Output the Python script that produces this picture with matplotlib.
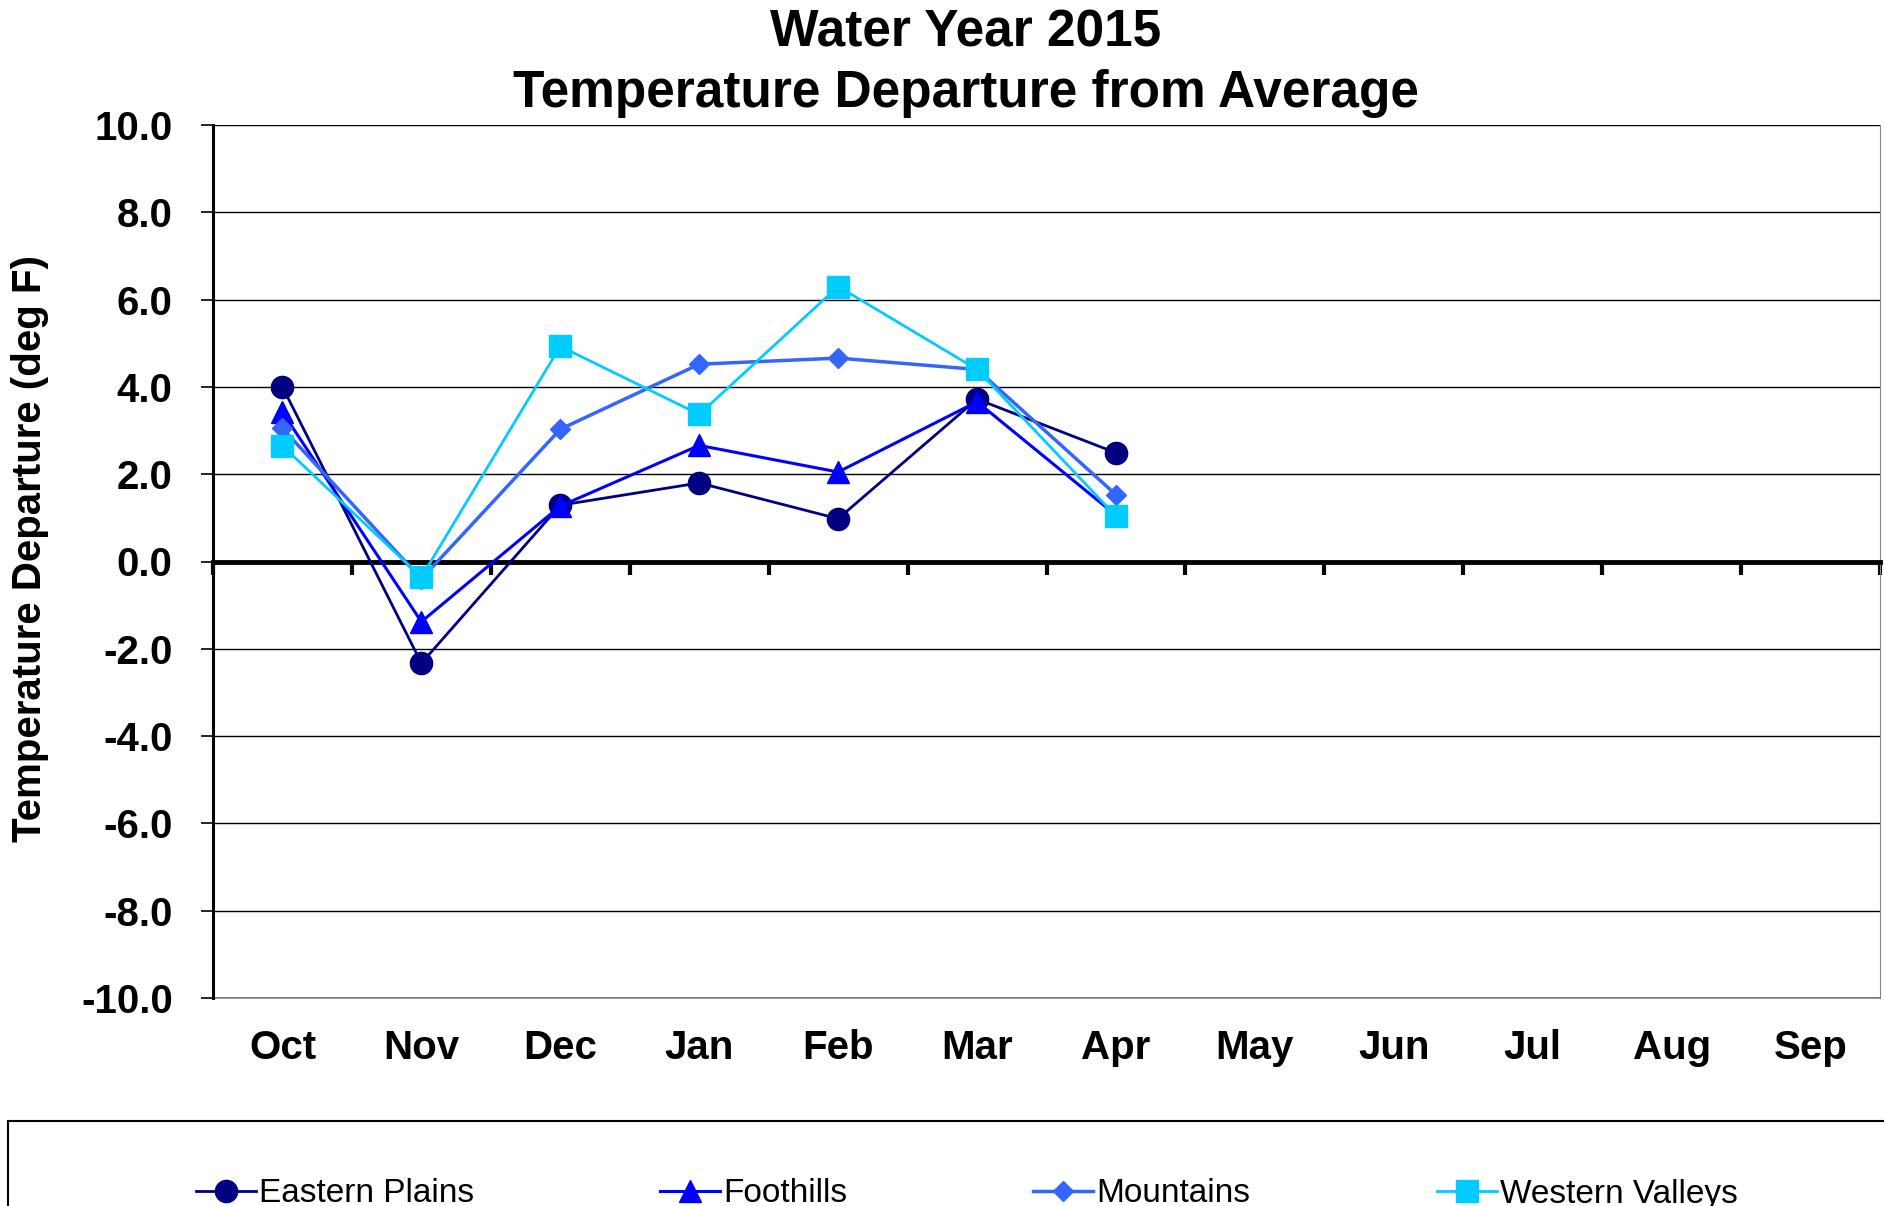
import numpy as np
import matplotlib
matplotlib.use("Agg")
import matplotlib.pyplot as plt
from matplotlib.patches import Rectangle

# ---- data ----
months = ["Oct", "Nov", "Dec", "Jan", "Feb", "Mar", "Apr",
          "May", "Jun", "Jul", "Aug", "Sep"]
eastern_plains = [4.0, -2.33, 1.29, 1.80, 0.98, 3.72, 2.49]
foothills = [3.42, -1.38, 1.27, 2.66, 2.05, 3.66, 1.06]
mountains = [3.05, -0.40, 3.03, 4.52, 4.66, 4.40, 1.53]
western_valleys = [2.65, -0.36, 4.93, 3.37, 6.30, 4.40, 1.04]
series_names = ["Eastern Plains", "Foothills", "Mountains", "Western Valleys"]

plt.rcParams["font.family"] = ["Liberation Sans", "DejaVu Sans"]

fig = plt.figure(figsize=(18.84, 12.06), dpi=100)
ax = fig.add_axes([213/1884, 1-998/1206, (1880-213)/1884, (998-125)/1206])

styles = [
    dict(color="#000080", marker="o", ms=16, lw=2.0),
    dict(color="#0000FF", marker="^", ms=16, lw=2.2),
    dict(color="#3366FF", marker="D", ms=10.5, lw=2.5),
    dict(color="#00CCFF", marker="s", ms=15.5, lw=2.0),
]
all_series = [eastern_plains, foothills, mountains, western_valleys]
handles = []
for name, vals, st in zip(series_names, all_series, styles):
    x = np.arange(len(vals))
    ln, = ax.plot(x, vals, color=st["color"], lw=st["lw"], marker=st["marker"],
                  ms=st["ms"], mec=st["color"], mfc=st["color"], zorder=3,
                  label=name)
    handles.append(ln)

ax.set_xlim(-0.5, len(months) - 0.5)
ax.set_ylim(-10, 10)
yt = np.arange(-10, 10.1, 2)
ax.set_yticks(yt)
ax.set_yticklabels([f"{v:.1f}" for v in yt], fontsize=29, fontweight="bold")
ax.tick_params(axis="y", length=9, width=1.2, pad=20, direction="out")
ax.yaxis.grid(True, color="black", lw=1.0)
ax.set_axisbelow(True)

# zero line with category-boundary ticks
ax.spines["bottom"].set_position(("data", 0))
ax.spines["bottom"].set_linewidth(3.5)
ax.set_xticks(np.arange(-0.5, len(months), 1.0))
ax.tick_params(axis="x", length=9, width=3, direction="out", labelbottom=False)

ax.spines["left"].set_linewidth(2.2)
ax.spines["right"].set_color("#888888")
ax.spines["top"].set_visible(False)

# month labels on the plot-area bottom edge
sec = ax.secondary_xaxis("bottom")
sec.set_xticks(range(len(months)))
sec.set_xticklabels(months, fontsize=29, fontweight="bold")
sec.tick_params(length=0, pad=22)
sec.spines["bottom"].set_color("#888888")
sec.spines["bottom"].set_linewidth(1.2)

fig.text(966/1884, 1-63/1206, "Water Year 2015\nTemperature Departure from Average",
         ha="center", va="center", fontsize=37, fontweight="bold", linespacing=1.3)
fig.text(30/1884, 1-549/1206, "Temperature Departure (deg F)", rotation=90,
         ha="center", va="center", fontsize=29, fontweight="bold")

# legend box running off the bottom/right of the canvas
fig.patches.append(Rectangle((8/1884, -0.02), 1.0, (1206-1121)/1206 + 0.02,
                             transform=fig.transFigure, fill=False,
                             ec="black", lw=1.5))
leg_x = [196, 660, 1033, 1437]
for h, lx in zip(handles, leg_x):
    fig.legend(handles=[h], loc="center left",
               bbox_to_anchor=(lx/1884, 1-1194/1206),
               frameon=False, fontsize=24, handlelength=1.8,
               handletextpad=0.1, borderpad=0, borderaxespad=0)

fig.savefig("out.png", dpi=100)
